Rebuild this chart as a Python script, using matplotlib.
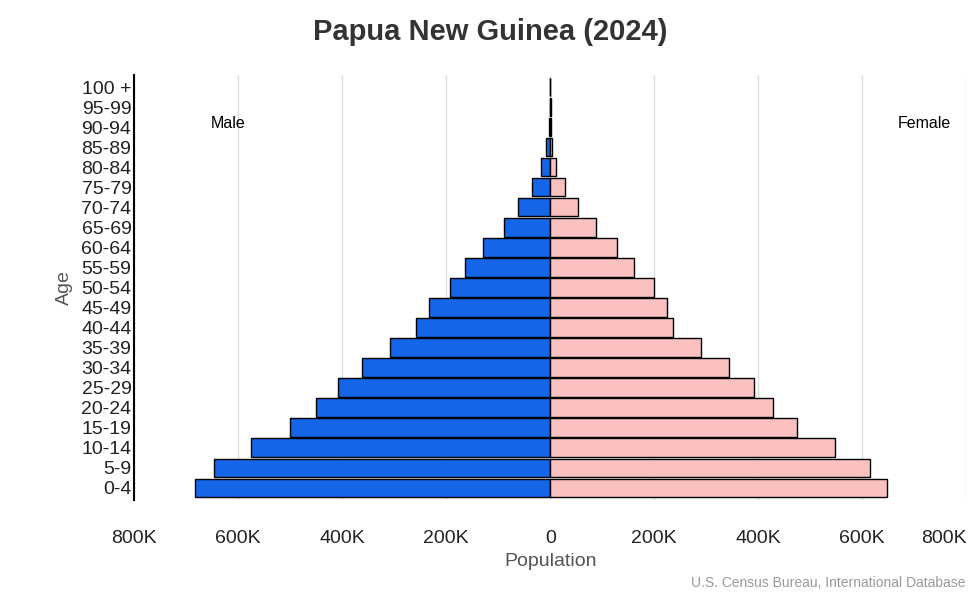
import matplotlib
matplotlib.use("Agg")
import matplotlib.pyplot as plt
import numpy as np

ages = ["0-4","5-9","10-14","15-19","20-24","25-29","30-34","35-39","40-44","45-49",
        "50-54","55-59","60-64","65-69","70-74","75-79","80-84","85-89","90-94","95-99","100 +"]
male = [684,646,576,500,450,408,362,308,258,234,192,164,129,89,62,35,17,8,3,1,0.5]
female = [648,614,548,475,429,391,344,290,236,225,200,161,129,87,54,29,11,4,2,0.8,0.3]
xticks = [-800,-600,-400,-200,0,200,400,600,800]
xlabels = ["800K","600K","400K","200K","0","200K","400K","600K","800K"]

plt.rcParams['font.family'] = ['Arial', 'Liberation Sans', 'DejaVu Sans']
fig = plt.figure(figsize=(9.8, 6), dpi=100)
ax = fig.add_axes([0.137, 0.167, 0.849, 0.708])
y = np.arange(len(ages))
ax.barh(y, [-m for m in male], height=0.92, color="#1565e8", edgecolor="black", linewidth=1, zorder=3)
ax.barh(y, female, height=0.92, color="#fbc1c1", edgecolor="black", linewidth=1, zorder=3)
ax.set_xlim(-800, 800)
ax.set_ylim(-0.6, len(ages) - 0.4)
ax.set_yticks(y)
ax.set_yticklabels(ages, fontsize=14, color="#222222")
ax.set_xticks(xticks)
ax.set_xticklabels(xlabels, fontsize=14, color="#222222")
ax.get_xticklabels()[-1].set_horizontalalignment("right")
ax.get_xticklabels()[-1].set_x(790)
ax.tick_params(length=0)
ax.tick_params(axis='x', pad=22)
ax.tick_params(axis='y', pad=2)
ax.grid(axis='x', color="#dddddd", linewidth=1, zorder=0)
for s in ["top", "right", "bottom"]:
    ax.spines[s].set_visible(False)
ax.spines["left"].set_linewidth(1.5)
ax.set_xlabel("Population", fontsize=14, color="#555555", labelpad=4)
ax.set_ylabel("Age", fontsize=14, color="#555555", labelpad=6)
ax.text(-620, 18.2, "Male", fontsize=11.5, va="center", ha="center")
ax.text(720, 18.2, "Female", fontsize=11.5, va="center", ha="center")
fig.suptitle("Papua New Guinea (2024)", fontsize=21, fontweight="bold", color="#333333", y=0.97)
fig.text(0.985, 0.022, "U.S. Census Bureau, International Database", ha="right", fontsize=10, color="#999999")
fig.savefig("out.png", dpi=100)
